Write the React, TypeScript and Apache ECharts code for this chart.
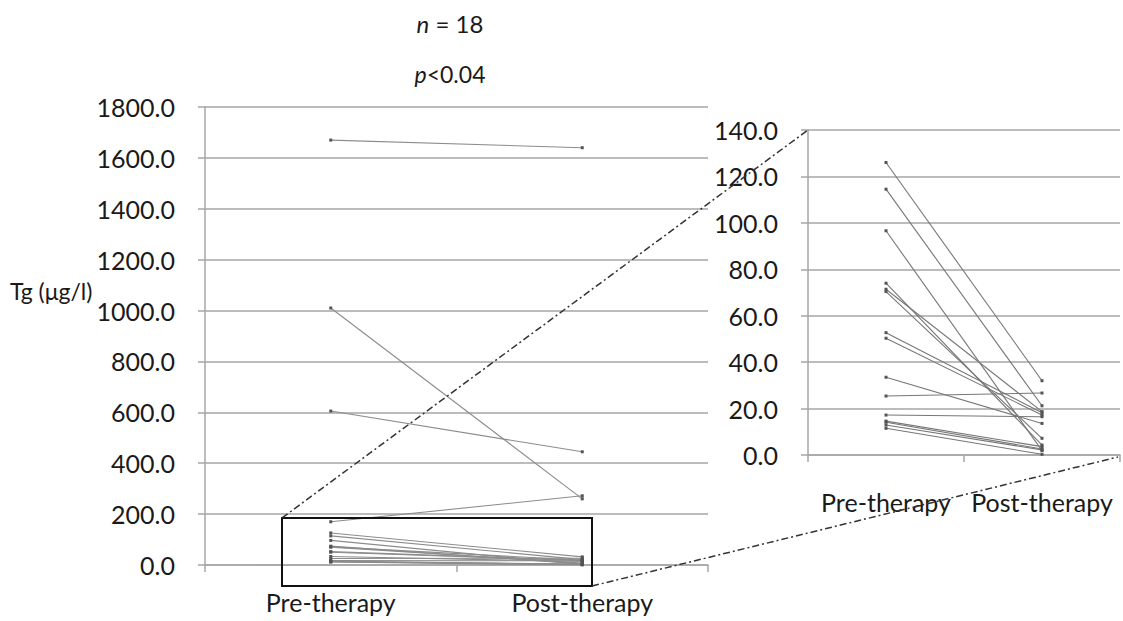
import React, { useEffect, useRef } from "react";
import * as echarts from "echarts";

// ---- data ----
const categories = ["Pre-therapy", "Post-therapy"];
// patients whose values exceed the inset range
const highPre = [1670, 1010, 605, 170];
const highPost = [1640, 260, 445, 272];
// patients shown in the inset (0-140)
const lowPre = [126, 114.5, 96.6, 74, 71.4, 70.4, 52.7, 50.3, 33.5, 25.4, 17.2, 14.6, 14.1, 12.9, 11.5];
const lowPost = [32.0, 21.2, 1.9, 4.3, 18.7, 7.2, 18.2, 17.2, 13.6, 26.7, 16.5, 3.6, 2.6, 2.2, 0.3];
const mainAxis = { min: 0, max: 1800, interval: 200 };
const insetAxis = { min: 0, max: 140, interval: 20 };
const zoomBoxTop = 185; // value at top of zoom rectangle

// ---- layout ----
const G0 = { left: 205, top: 107, width: 503, height: 458 };
const G1 = { left: 808, top: 130, width: 312, height: 325 };
const FONT = "Lato, 'Open Sans', sans-serif";
const GRID_COLOR = "#a6a6a6";

export default function App() {
  const ref = useRef<HTMLDivElement>(null);
  useEffect(() => {
    if (!ref.current) return;
    const chart = echarts.init(ref.current, null, { renderer: "svg" });

    const valueAxis = (gridIndex: number, cfg: any) => ({
      type: "value",
      gridIndex,
      min: cfg.min,
      max: cfg.max,
      interval: cfg.interval,
      axisLine: { show: true, lineStyle: { color: GRID_COLOR, width: 1.5 } },
      axisTick: { show: true, length: 7, lineStyle: { color: GRID_COLOR, width: 1.5 } },
      splitLine: { show: true, lineStyle: { color: GRID_COLOR, width: 1.5 } },
      axisLabel: {
        formatter: (v: number) => v.toFixed(1),
        fontSize: 25,
        fontFamily: FONT,
        color: "#1a1a1a",
        margin: 30,
      },
    });
    const catAxis = (gridIndex: number, margin: number) => ({
      type: "category",
      gridIndex,
      data: categories,
      boundaryGap: true,
      axisLine: { show: true, lineStyle: { color: GRID_COLOR, width: 1.5 } },
      axisTick: { show: true, length: 7, lineStyle: { color: GRID_COLOR, width: 1.5 } },
      axisLabel: { fontSize: 25, fontFamily: FONT, color: "#1a1a1a", margin, interval: 0 },
    });

    const mkSeries = (pre: number[], post: number[], idx: number, color: string) =>
      pre.map((v, i) => ({
        type: "line",
        xAxisIndex: idx,
        yAxisIndex: idx,
        data: [v, post[i]],
        symbol: "rect",
        symbolSize: 3,
        itemStyle: { color: "#555" },
        lineStyle: { color, width: 1.1 },
        silent: true,
      }));

    const boxTopY = G0.top + G0.height * (1 - zoomBoxTop / mainAxis.max);
    const boxLeft = 282;
    const boxRight = 592;
    const boxBottom = 586;

    const titleStyle = (size: number) => ({
      fontSize: size,
      fontWeight: "normal",
      fontFamily: FONT,
      color: "#1a1a1a",
      rich: {
        i: { fontStyle: "italic", fontSize: size, fontFamily: FONT, color: "#1a1a1a" },
        r: { fontSize: size, fontFamily: FONT, color: "#1a1a1a" },
      },
    });

    chart.setOption({
      animation: false,
      title: [
        {
          text: "{i|n}{r| = 18}",
          left: 445,
          top: 6,
          textAlign: "center",
          textStyle: titleStyle(24),
        },
        {
          text: "{i|p}{r|<0.04}",
          left: 445,
          top: 57,
          textAlign: "center",
          textStyle: titleStyle(23),
        },
      ],
      grid: [
        { ...G0, containLabel: false },
        { ...G1, containLabel: false },
      ],
      xAxis: [catAxis(0, 24), catAxis(1, 34)],
      yAxis: [valueAxis(0, mainAxis), valueAxis(1, insetAxis)],
      series: [
        ...mkSeries(highPre, highPost, 0, "#8c8c8c"),
        ...mkSeries(lowPre, lowPost, 0, "#8c8c8c"),
        ...mkSeries(lowPre, lowPost, 1, "#777"),
      ],
      graphic: [
        {
          type: "text",
          left: 10,
          top: 279,
          style: { text: "Tg (μg/l)", fontSize: 23, fontFamily: FONT, fill: "#1a1a1a" },
        },
        {
          type: "rect",
          shape: { x: boxLeft, y: boxTopY, width: boxRight - boxLeft, height: boxBottom - boxTopY },
          style: { fill: "none", stroke: "#111", lineWidth: 2 },
          z: 10,
        },
        {
          type: "line",
          shape: { x1: boxLeft, y1: boxTopY, x2: G1.left, y2: G1.top },
          style: { stroke: "#333", lineWidth: 1.5, lineDash: [7, 3, 2, 3] },
          z: 10,
        },
        {
          type: "line",
          shape: { x1: boxRight, y1: boxBottom, x2: G1.left + G1.width - 2, y2: G1.top + G1.height + 2 },
          style: { stroke: "#333", lineWidth: 1.5, lineDash: [7, 3, 2, 3] },
          z: 10,
        },
      ],
    });
    return () => chart.dispose();
  }, []);
  return (
    <div
      ref={ref}
      style={{ position: "fixed", left: 0, top: 0, width: 1123, height: 621, background: "#fff" }}
    />
  );
}
